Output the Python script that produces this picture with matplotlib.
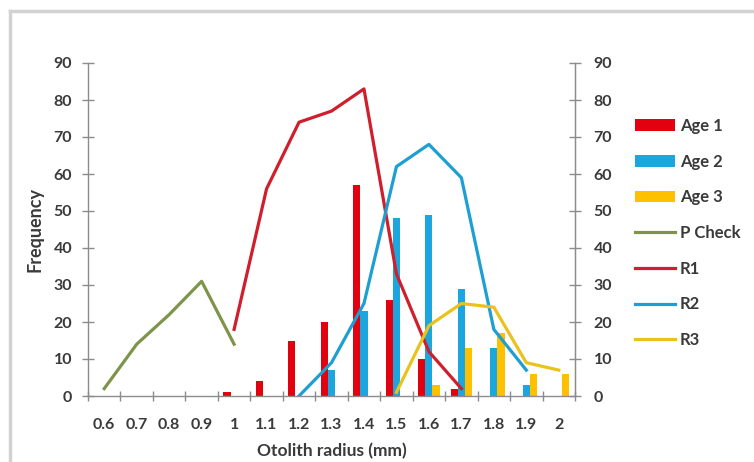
import numpy as np
import matplotlib
matplotlib.use("Agg")
import matplotlib.pyplot as plt
from matplotlib.lines import Line2D
from matplotlib.patches import Patch

categories = ["0.6", "0.7", "0.8", "0.9", "1", "1.1", "1.2", "1.3", "1.4",
              "1.5", "1.6", "1.7", "1.8", "1.9", "2"]
nan = np.nan
age1 = [0, 0, 0, 0, 1, 4, 15, 20, 57, 26, 10, 2, 0, 0, 0]
age2 = [0, 0, 0, 0, 0, 0, 0, 7, 23, 48, 49, 29, 13, 3, 0]
age3 = [0, 0, 0, 0, 0, 0, 0, 0, 0, 0, 3, 13, 17, 6, 6]
p_check = [2, 14, 22, 31, 14, nan, nan, nan, nan, nan, nan, nan, nan, nan, nan]
r1 = [nan, nan, nan, nan, 18, 56, 74, 77, 83, 33, 12, 2, nan, nan, nan]
r2 = [nan, nan, nan, nan, nan, nan, 0, 9, 25, 62, 68, 59, 18, 7, nan]
r3 = [nan, nan, nan, nan, nan, nan, nan, nan, nan, 1, 19, 25, 24, 9, 7]
y_ticks = list(range(0, 91, 10))

c_age1 = "#E3000F"
c_age2 = "#1BA6DE"
c_age3 = "#FFC000"
c_pc = "#7E944A"
c_r1 = "#D01F2C"
c_r2 = "#1E9FD2"
c_r3 = "#E9C31A"
axis_c = "#8C8C8C"
text_c = "#3A3A3A"

plt.rcParams['font.family'] = ['Lato', 'DejaVu Sans']

W, H = 754, 462
fig = plt.figure(figsize=(W / 100, H / 100), dpi=100)
fig.patch.set_facecolor("white")

# chart border (top and left visible)
fig.add_artist(Line2D([10 / W, 1.0], [1 - 11 / H, 1 - 11 / H], color="#D2D2D2", lw=2.5))
fig.add_artist(Line2D([10 / W, 10 / W], [0.0, 1 - 11 / H], color="#D2D2D2", lw=2.5))

L, R, B, T = 88 / W, 575 / W, 1 - 396 / H, 1 - 63 / H
ax = fig.add_axes([L, B, R - L, T - B])
x = np.arange(len(categories))
bw = 0.22
ax.bar(x - bw, age1, bw, color=c_age1, label="Age 1", zorder=2)
ax.bar(x, age2, bw, color=c_age2, label="Age 2", zorder=2)
ax.bar(x + bw, age3, bw, color=c_age3, label="Age 3", zorder=2)
lw = 2.3
ax.plot(x, p_check, color=c_pc, lw=lw, zorder=3)
ax.plot(x, r1, color=c_r1, lw=lw, zorder=3)
ax.plot(x, r2, color=c_r2, lw=lw, zorder=3)
ax.plot(x, r3, color=c_r3, lw=lw, zorder=3)

ax.set_xlim(-0.5, len(categories) - 0.5)
ax.set_ylim(0, 90)
ax.spines["top"].set_visible(False)
for s in ["left", "right", "bottom"]:
    ax.spines[s].set_color(axis_c)
    ax.spines[s].set_linewidth(1.0)

tick_fs = 11.5
ax.set_yticks(y_ticks)
ax.tick_params(axis="y", direction="inout", length=9, width=1, color=axis_c,
               labelsize=tick_fs, labelcolor=text_c, pad=7)
for lab in ax.get_yticklabels():
    lab.set_fontweight("bold")

ax.set_xticks(np.arange(-0.5, len(categories) - 0.4, 1.0))
ax.set_xticklabels([])
ax.tick_params(axis="x", which="major", direction="inout", length=7, width=1, color=axis_c)
ax.set_xticks(x, minor=True)
ax.set_xticklabels(categories, minor=True)
ax.tick_params(axis="x", which="minor", length=0, labelsize=tick_fs, labelcolor=text_c, pad=16)
for lab in ax.get_xticklabels(minor=True):
    lab.set_fontweight("bold")

ax2 = ax.twinx()
ax2.set_ylim(0, 90)
ax2.set_yticks(y_ticks)
for s in ["top", "left", "bottom"]:
    ax2.spines[s].set_visible(False)
ax2.spines["right"].set_color(axis_c)
ax2.tick_params(axis="y", direction="inout", length=9, width=1, color=axis_c,
                labelsize=tick_fs, labelcolor=text_c, pad=9)
for lab in ax2.get_yticklabels():
    lab.set_fontweight("bold")

ax.set_xlabel("Otolith radius (mm)", fontsize=12.5, fontweight="bold", color=text_c, labelpad=8)
ax.set_ylabel("Frequency", fontsize=13, fontweight="bold", color=text_c, labelpad=7)

handles = [
    Patch(facecolor=c_age1, label="Age 1"),
    Patch(facecolor=c_age2, label="Age 2"),
    Patch(facecolor=c_age3, label="Age 3"),
    Line2D([], [], color=c_pc, lw=lw, label="P Check"),
    Line2D([], [], color=c_r1, lw=lw, label="R1"),
    Line2D([], [], color=c_r2, lw=lw, label="R2"),
    Line2D([], [], color=c_r3, lw=lw, label="R3"),
]
leg = fig.legend(handles=handles, loc="upper left", bbox_to_anchor=(635 / W, 1 - 118 / H),
                 frameon=False, handlelength=2.4, handleheight=0.7, handletextpad=0.3,
                 labelspacing=1.18, borderaxespad=0, borderpad=0,
                 prop={"size": 12, "weight": "bold"})
for t in leg.get_texts():
    t.set_color(text_c)

fig.savefig("out.png", dpi=100, facecolor="white")
